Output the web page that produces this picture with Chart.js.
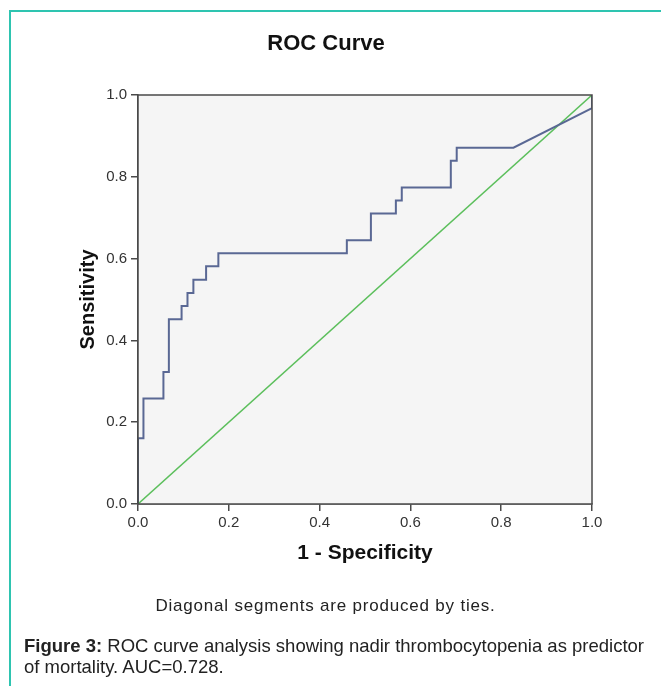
<!DOCTYPE html>
<html>
<head>
<meta charset="utf-8">
<script src="https://cdn.jsdelivr.net/npm/chart.js@4"></script>
<style>
    body { margin: 0; background: #fff; font-family: "Liberation Sans", Arial, sans-serif; }
    #wrap { position: relative; width: 661px; height: 686px; overflow: hidden; }
    #frame { position: absolute; left: 9px; top: 10px; width: 700px; height: 700px;
             border-left: 2px solid #2ec4b0; border-top: 2px solid #2ec4b0; }
    #box { position: absolute; left: 0; top: 0; width: 661px; height: 686px; }
    #note { position: absolute; left: 0; width: 651px; top: 596px; text-align: center;
            font-size: 17px; color: #222; letter-spacing: 0.8px; }
    #caption { position: absolute; left: 24px; top: 635px; width: 625px;
               font-size: 18.5px; line-height: 21px; color: #222; }
</style>
</head>
<body>
<div id="wrap">
    <div id="frame"></div>
    <div id="box"><canvas id="myChart"></canvas></div>
    <div id="note">Diagonal segments are produced by ties.</div>
    <div id="caption"><b>Figure 3:</b> ROC curve analysis showing nadir thrombocytopenia as predictor of mortality. AUC=0.728.</div>
</div>
<script>
// ROC curve (1 - specificity, sensitivity)
let specificity1 = [0, 0, 0.012, 0.012, 0.056, 0.056, 0.068, 0.068, 0.096, 0.096, 0.109, 0.109,
    0.122, 0.122, 0.150, 0.150, 0.177, 0.177, 0.460, 0.460, 0.513, 0.513, 0.568, 0.568,
    0.581, 0.581, 0.689, 0.689, 0.702, 0.702, 0.827, 1.0, 1.0];
let sensitivity = [0, 0.161, 0.161, 0.258, 0.258, 0.323, 0.323, 0.452, 0.452, 0.484, 0.484, 0.516,
    0.516, 0.548, 0.548, 0.581, 0.581, 0.613, 0.613, 0.645, 0.645, 0.710, 0.710, 0.742,
    0.742, 0.774, 0.774, 0.839, 0.839, 0.871, 0.871, 0.968, 1.0];
let refX = [0, 1];
let refY = [0, 1];
let tickValues = [0, 0.2, 0.4, 0.6, 0.8, 1.0];

(() => {
    let ctx = document.getElementById("myChart");
    let toPts = (xs, ys) => xs.map((x, i) => ({x: x, y: ys[i]}));

    // grey plot background and the dark box round it
    let plotBox = {
        id: 'plotBox',
        beforeDatasetsDraw: chart => {
            let a = chart.chartArea, c = chart.ctx;
            c.save();
            c.fillStyle = '#f5f5f5';
            c.fillRect(a.left, a.top, a.right - a.left, a.bottom - a.top);
            c.restore();
        },
        afterDatasetsDraw: chart => {
            let a = chart.chartArea, c = chart.ctx;
            c.save();
            c.strokeStyle = '#4a4a4a';
            c.lineWidth = 1.5;
            c.strokeRect(a.left, a.top, a.right - a.left, a.bottom - a.top);
            c.restore();
        }
    };

    let font = {family: '"Liberation Sans", Arial, sans-serif'};

    new Chart(ctx, {
        type: 'scatter',
        data: {
            datasets: [{
                    label: 'ROC',
                    data: toPts(specificity1, sensitivity),
                    showLine: true,
                    borderColor: '#5a6894',
                    borderWidth: 2,
                    pointRadius: 0,
                    order: 1
                },
                {
                    label: 'Reference',
                    data: toPts(refX, refY),
                    showLine: true,
                    borderColor: '#5cbf5c',
                    borderWidth: 1.5,
                    pointRadius: 0,
                    order: 2
                }
            ]
        },
        options: {
            responsive: true,
            maintainAspectRatio: false,
            animation: false,
            layout: {padding: {left: 60, right: 69, top: 30, bottom: 120}},
            plugins: {
                legend: {display: false},
                tooltip: {enabled: false},
                title: {
                    display: true,
                    text: 'ROC Curve',
                    color: '#111',
                    font: {family: font.family, size: 22, weight: 'bold'},
                    padding: {top: 0.8, bottom: 37.8}
                }
            },
            scales: {
                x: {
                    type: 'linear',
                    min: 0,
                    max: 1,
                    afterBuildTicks: s => { s.ticks = tickValues.map(v => ({value: v})); },
                    afterFit: s => { s.height = 62; },
                    grid: {drawOnChartArea: false, tickLength: 7, color: '#4a4a4a', lineWidth: 1.5},
                    border: {color: '#4a4a4a', width: 1.5},
                    ticks: {
                        color: '#333',
                        padding: 3,
                        font: {family: font.family, size: 15},
                        callback: v => v.toFixed(1)
                    },
                    title: {
                        display: true,
                        text: '1 - Specificity',
                        color: '#111',
                        font: {family: font.family, size: 21, weight: 'bold'},
                        padding: {top: 0, bottom: 0.4}
                    }
                },
                y: {
                    type: 'linear',
                    min: 0,
                    max: 1,
                    afterBuildTicks: s => { s.ticks = tickValues.map(v => ({value: v})); },
                    afterFit: s => { s.width = 78; },
                    grid: {drawOnChartArea: false, tickLength: 7, color: '#4a4a4a', lineWidth: 1.5},
                    border: {color: '#4a4a4a', width: 1.5},
                    ticks: {
                        color: '#333',
                        padding: 4,
                        font: {family: font.family, size: 15},
                        callback: v => v.toFixed(1)
                    },
                    title: {
                        display: true,
                        text: 'Sensitivity',
                        color: '#111',
                        font: {family: font.family, size: 20, weight: 'bold'},
                        padding: {top: 16, bottom: 0}
                    }
                }
            }
        },
        plugins: [plotBox]
    });
})();
</script>
</body>
</html>
